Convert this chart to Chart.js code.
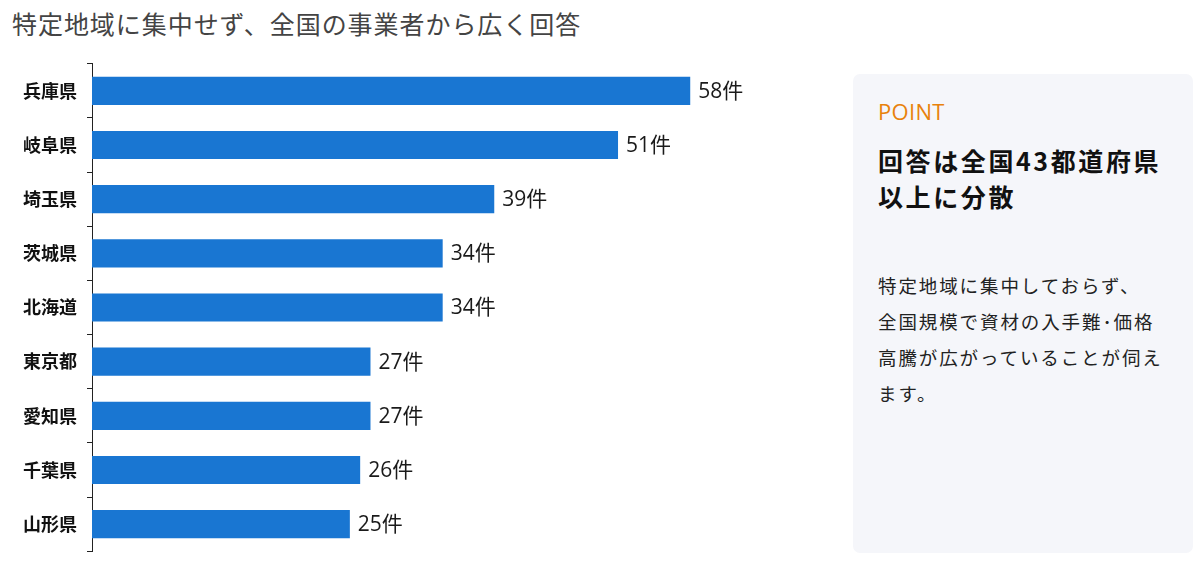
<!DOCTYPE html>
<html lang="ja">
<head>
<meta charset="utf-8">
<script src="https://cdn.jsdelivr.net/npm/chart.js@4.4.1/dist/chart.umd.min.js"></script>
<style>
  html, body { margin: 0; padding: 0; background: #fff; }
  body { width: 1200px; height: 565px; position: relative; overflow: hidden;
         font-family: "Noto Sans CJK JP", "Noto Sans", sans-serif; }
  #title { position: absolute; left: 12px; top: 5px; font-size: 25px; color: #444;
           letter-spacing: 0.95px; white-space: nowrap; }
  #chart-wrap { position: absolute; left: 0; top: 43px; width: 830px; height: 529px; }
  #panel { position: absolute; left: 853px; top: 74px; width: 340px; height: 479px;
           background: #f5f6fa; border-radius: 7px; }
  #panel .point { position: absolute; left: 25px; top: 22px; font-size: 22px; color: #e8820c;
                  font-family: "Open Sans", "Noto Sans CJK JP", sans-serif; letter-spacing: 0.3px; }
  #panel .head { position: absolute; left: 25px; top: 68px; font-size: 25px; font-weight: bold;
                 color: #111; line-height: 36px; letter-spacing: 2.6px; white-space: nowrap; }
  #panel .body { position: absolute; left: 25px; top: 193px; font-size: 18.5px; color: #222;
                 line-height: 36px; letter-spacing: 1.9px; white-space: nowrap; }
</style>
</head>
<body>
<div id="title">特定地域に集中せず、全国の事業者から広く回答</div>
<div id="chart-wrap"><canvas id="chart"></canvas></div>
<div id="panel">
  <div class="point">POINT</div>
  <div class="head">回答は全国43都道府県<br>以上に分散</div>
  <div class="body">特定地域に集中しておらず、<br>全国規模で資材の入手難･価格<br>高騰が広がっていることが伺え<br>ます。</div>
</div>
<script>
const PREFECTURES = ["兵庫県", "岐阜県", "埼玉県", "茨城県", "北海道", "東京都", "愛知県", "千葉県", "山形県"];
const COUNTS = [58, 51, 39, 34, 34, 27, 27, 26, 25];
const UNIT = "件";

const valueLabels = {
  id: "valueLabels",
  afterDatasetsDraw(chart) {
    const { ctx } = chart;
    const meta = chart.getDatasetMeta(0);
    ctx.save();
    ctx.font = '21px "Open Sans", "Noto Sans CJK JP", sans-serif';
    ctx.fillStyle = "#1a1a1a";
    ctx.textAlign = "left";
    ctx.textBaseline = "middle";
    meta.data.forEach((bar, i) => {
      ctx.fillText(COUNTS[i] + UNIT, bar.x + 8, bar.y + 1);
    });
    ctx.restore();
  },
};

new Chart(document.getElementById("chart"), {
  type: "bar",
  data: {
    labels: PREFECTURES,
    datasets: [{
      data: COUNTS,
      backgroundColor: "#1976d2",
      barPercentage: 0.52,
      categoryPercentage: 1,
    }],
  },
  options: {
    indexAxis: "y",
    responsive: true,
    maintainAspectRatio: false,
    animation: false,
    layout: { padding: { top: 8, bottom: 3, right: 16, left: 0 } },
    scales: {
      x: { display: false, min: 0, max: 70 },
      y: {
        afterFit: (scale) => { scale.width = 92; },
        border: { color: "#222", width: 1 },
        grid: { drawOnChartArea: false, tickLength: 5, tickColor: "#222", offset: true },
        ticks: { padding: 10, color: "#111", font: { family: '"Noto Sans CJK JP", sans-serif', size: 18, weight: "bold" } },
      },
    },
    plugins: { legend: { display: false }, tooltip: { enabled: false } },
  },
  plugins: [valueLabels],
});
</script>
</body>
</html>
